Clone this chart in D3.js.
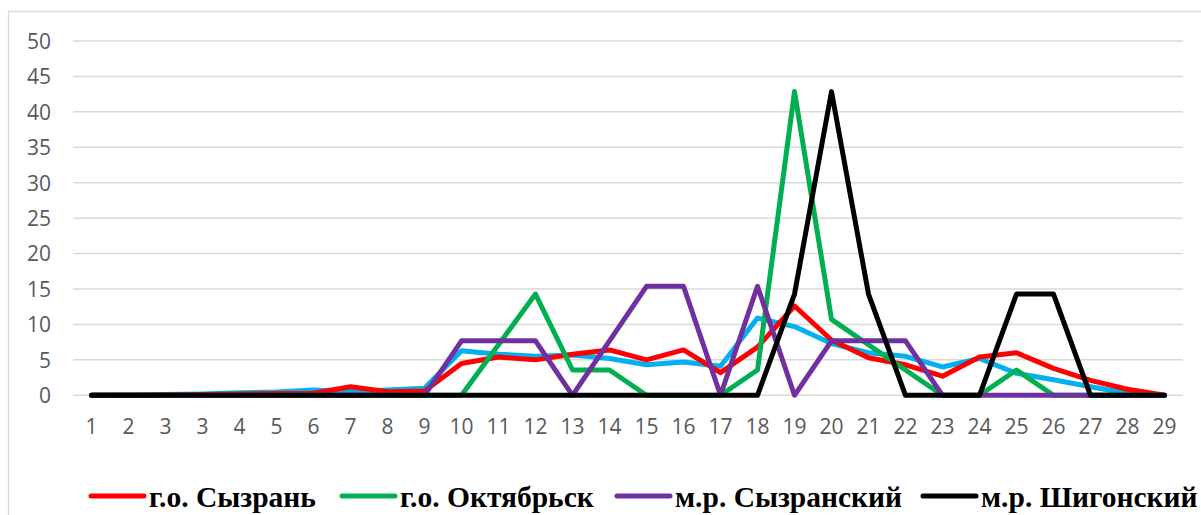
<!DOCTYPE html>
<html>
<head>
<meta charset="utf-8">
<script src="https://cdn.jsdelivr.net/npm/d3@7"></script>
<style>
  body { margin: 0; background: #fff; }
  svg { display: block; }
</style>
</head>
<body>
<script>
//Global variables
    const width = 1201;
    const height = 515;
    const plotLeft = 73, plotRight = 1183;
    const plotTop = 41, plotBottom = 395.3;

//Data
    //Category labels (note the repeated "3" as in the original)
    const categories = ["1","2","3","3","4","5","6","7","8","9","10","11","12","13","14","15","16","17","18","19","20","21","22","23","24","25","26","27","28","29"];
    const yTicks = [0, 5, 10, 15, 20, 25, 30, 35, 40, 45, 50];

    const blueValues = [0, 0.05, 0.1, 0.2, 0.35, 0.45, 0.75, 0.55, 0.75, 1.0, 6.3, 5.8, 5.5, 5.7, 5.2, 4.3, 4.7, 4.1, 10.9, 9.7, 7.3, 6.0, 5.5, 4.0, 5.2, 3.1, 2.2, 1.2, 0.3, 0];
    const syzranValues = [0, 0, 0.05, 0.1, 0.2, 0.25, 0.3, 1.2, 0.5, 0.6, 4.5, 5.4, 5.0, 5.8, 6.4, 5.0, 6.4, 3.2, 6.8, 12.6, 7.8, 5.3, 4.3, 2.7, 5.4, 6.0, 3.8, 2.1, 0.85, 0];
    const oktyabrskValues = [0, 0, 0, 0, 0, 0, 0, 0, 0, 0, 0, 7.14, 14.29, 3.57, 3.57, 0, 0, 0, 3.57, 42.86, 10.71, 7.14, 3.57, 0, 0, 3.57, 0, 0, 0, 0];
    const syzranskiyValues = [0, 0, 0, 0, 0, 0, 0, 0, 0, 0, 7.69, 7.69, 7.69, 0, 7.69, 15.38, 15.38, 0, 15.38, 0, 7.69, 7.69, 7.69, 0, 0, 0, 0, 0, 0, 0];
    const shigonskiyValues = [0, 0, 0, 0, 0, 0, 0, 0, 0, 0, 0, 0, 0, 0, 0, 0, 0, 0, 0, 14.29, 42.86, 14.29, 0, 0, 0, 14.29, 14.29, 0, 0, 0];

    //Series in drawing order; blue one has no visible legend entry
    const series = [
        {name: "", values: blueValues, color: "#00b0f0", legend: false},
        {name: "г.о. Сызрань", values: syzranValues, color: "#ff0000", legend: true},
        {name: "г.о. Октябрьск", values: oktyabrskValues, color: "#00b050", legend: true},
        {name: "м.р. Сызранский", values: syzranskiyValues, color: "#7030a0", legend: true},
        {name: "м.р. Шигонский", values: shigonskiyValues, color: "#000000", legend: true}
    ];

    //Legend entry start positions
    const legendX = [91, 342, 617, 923];

//Scales
    const xScale = d3.scaleBand()
                    .domain(d3.range(categories.length))
                    .range([plotLeft, plotRight]);

    const yScale = d3.scaleLinear()
                    .domain([0, 50])
                    .range([plotBottom, plotTop]);

    const xPos = i => xScale(i) + xScale.bandwidth() / 2;

//SVG element
    const svg = d3.select("body")
                .append("svg")
                .attr("width", width)
                .attr("height", height);

    //Chart area border
    svg.append("rect")
        .attr("x", 8.5)
        .attr("y", 11.5)
        .attr("width", 1300)
        .attr("height", 600)
        .attr("fill", "none")
        .attr("stroke", "#d9d9d9")
        .attr("stroke-width", 1.3);

//Gridlines
    svg.append("g")
        .selectAll("line")
        .data(yTicks)
        .enter()
        .append("line")
        .attr("x1", plotLeft)
        .attr("x2", plotRight)
        .attr("y1", d => yScale(d))
        .attr("y2", d => yScale(d))
        .attr("stroke", "#d9d9d9")
        .attr("stroke-width", 1.5);

//Axes
    const leftAxis = d3.axisLeft(yScale)
                       .tickValues(yTicks)
                       .tickSize(0)
                       .tickPadding(0);

    const bottomAxis = d3.axisBottom(xScale)
                         .tickFormat(i => categories[i])
                         .tickSize(0)
                         .tickPadding(0);

    const gy = svg.append("g")
        .attr("transform", "translate(51,0)")
        .call(leftAxis);

    const gx = svg.append("g")
        .attr("transform", "translate(0,419)")
        .call(bottomAxis);

    [gx, gy].forEach(g => {
        g.select(".domain").remove();
        g.selectAll("text")
            .attr("fill", "#595959")
            .style("font-family", "'Open Sans', sans-serif")
            .style("font-size", "21px");
    });
    gy.selectAll("text").attr("dy", "0.35em");
    gx.selectAll("text").attr("dy", "0.71em");

//Lines
    const line = d3.line()
                   .x((d, i) => xPos(i))
                   .y(d => yScale(d));

    svg.append("g")
        .selectAll("path")
        .data(series)
        .enter()
        .append("path")
        .attr("d", d => line(d.values))
        .attr("fill", "none")
        .attr("stroke", d => d.color)
        .attr("stroke-width", 5)
        .attr("stroke-linejoin", "round")
        .attr("stroke-linecap", "round");

//Legend
    const legend = svg.append("g");
    const ly = 496;
    series.filter(s => s.legend).forEach((s, k) => {
        const lx = legendX[k];
        legend.append("line")
            .attr("x1", lx)
            .attr("x2", lx + 53)
            .attr("y1", ly)
            .attr("y2", ly)
            .attr("stroke", s.color)
            .attr("stroke-width", 5)
            .attr("stroke-linecap", "round");
        legend.append("text")
            .attr("x", lx + 58)
            .attr("y", 507)
            .attr("fill", "#000")
            .style("font-family", "'Liberation Serif', 'Times New Roman', serif")
            .style("font-weight", "bold")
            .style("font-size", "29.5px")
            .text(s.name);
    });
</script>
</body>
</html>
